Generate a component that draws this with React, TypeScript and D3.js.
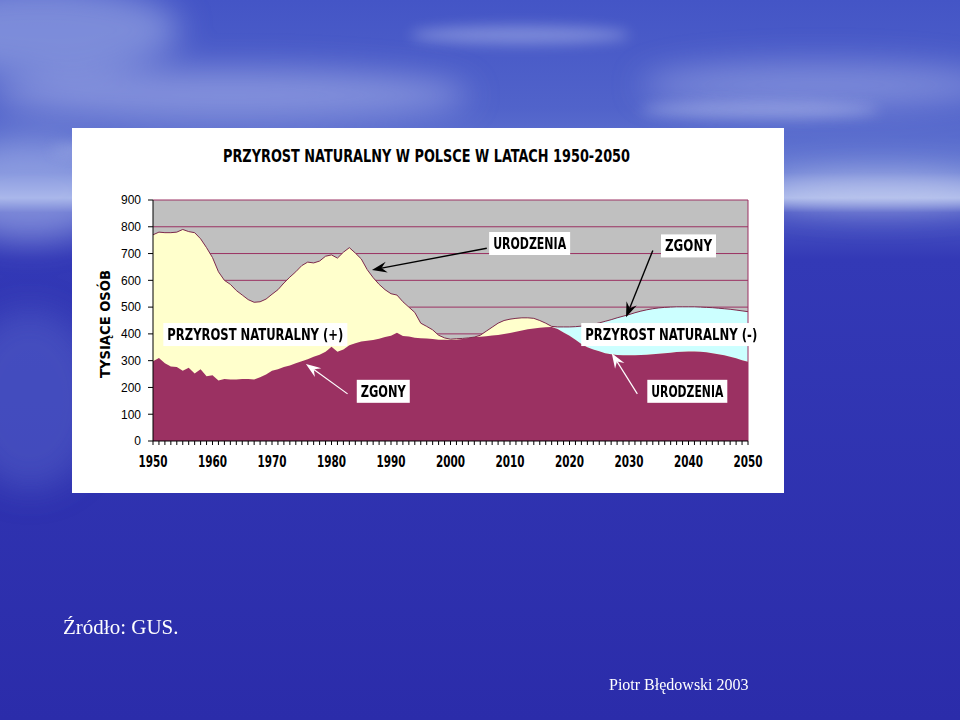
import React from 'react';
import * as d3 from 'd3';

// ---- DATA (thousands of persons) ----
const years: number[] = d3.range(1950, 2051);

const births: number[] = [
  770, 780, 778, 778, 780, 790, 782, 778, 755, 722,
  685, 632, 600, 585, 562, 545, 528, 518, 520, 530,
  548, 565, 590, 612, 632, 655, 668, 665, 672, 690,
  695, 683, 705, 722, 702, 680, 640, 610, 585, 565,
  550, 545, 520, 500, 480, 440, 428, 415, 395, 385,
  380, 382, 383, 385, 388, 395, 410, 425, 440, 450,
  455, 458, 460, 460, 458, 450, 440, 428, 418, 405,
  393, 378, 362, 350, 342, 335, 328, 324, 321, 320,
  320, 320, 321, 322, 324, 326, 328, 330, 332, 333,
  334, 334, 333, 331, 328, 324, 320, 315, 309, 302,
  296,
];

const deaths: number[] = [
  298, 310, 290, 278, 276, 262, 274, 252, 268, 242,
  246, 226, 232, 230, 230, 232, 232, 230, 238, 248,
  262, 268, 276, 282, 290, 298, 305, 315, 322, 333,
  352, 333, 342, 358, 365, 372, 374, 377, 382, 388,
  393, 404, 392, 390, 386, 384, 383, 381, 378, 378,
  377, 378, 381, 385, 388, 389, 391, 394, 396, 400,
  403, 408, 413, 417, 420, 423, 425, 426, 426, 426,
  426, 427, 429, 432, 436, 441, 447, 453, 460, 466,
  472, 479, 485, 490, 494, 497, 499, 500, 501, 501,
  501, 501, 500, 499, 498, 496, 494, 492, 489, 486,
  483,
];

const yTicks: number[] = [0, 100, 200, 300, 400, 500, 600, 700, 800, 900];
const xTicks: number[] = [1950, 1960, 1970, 1980, 1990, 2000, 2010, 2020, 2030, 2040, 2050];

const title = 'PRZYROST NATURALNY W POLSCE W LATACH 1950-2050';
const yTitle = 'TYSIĄCE OSÓB';

// annotation labels in data coordinates (center year, baseline value)
const labels = [
  { text: 'PRZYROST NATURALNY (+)', year: 1967.2, value: 377, w: 176 },
  { text: 'URODZENIA', year: 2013.3, value: 717, w: 73 },
  { text: 'ZGONY', year: 2040.0, value: 708, w: 47 },
  { text: 'PRZYROST NATURALNY (-)', year: 2037.1, value: 377, w: 172 },
  { text: 'ZGONY', year: 1988.7, value: 165, w: 45 },
  { text: 'URODZENIA', year: 2039.8, value: 165, w: 72 },
];

// annotation arrows in data coordinates
const arrows = [
  { x1: 2006.1, v1: 720, x2: 1986.8, v2: 639, color: '#000000', width: 1.4 },
  { x1: 2034.0, v1: 711, x2: 2029.5, v2: 462, color: '#000000', width: 1.4 },
  { x1: 1982.7, v1: 176, x2: 1975.7, v2: 288, color: '#ffffff', width: 1.2 },
  { x1: 2031.4, v1: 176, x2: 2027.1, v2: 328, color: '#ffffff', width: 1.2 },
];

// ---- LAYOUT ----
const W = 960;
const H = 720;
const plot = { left: 153, right: 748, top: 200, bottom: 441 };

const MAROON = '#9b3162';
const YELLOW = '#ffffcc';
const CYAN = '#ccffff';
const GRAY = '#c0c0c0';
const NARROW = "'Liberation Sans Narrow', 'Arial Narrow', 'DejaVu Sans Condensed', 'Liberation Sans', Arial, sans-serif";
const SANS = "'Liberation Sans', Arial, sans-serif";
const SERIF = "'Liberation Serif', 'Times New Roman', serif";

function Arrow({ x1, y1, x2, y2, color, width }: any) {
  const dx = x2 - x1;
  const dy = y2 - y1;
  const len = Math.sqrt(dx * dx + dy * dy);
  const ux = dx / len;
  const uy = dy / len;
  const nx = -uy;
  const ny = ux;
  const L = 15;
  const hw = 5.5;
  const bx = x2 - ux * L;
  const by = y2 - uy * L;
  const notchX = x2 - ux * L * 0.65;
  const notchY = y2 - uy * L * 0.65;
  const pts = [
    [x2, y2],
    [bx + nx * hw, by + ny * hw],
    [notchX, notchY],
    [bx - nx * hw, by - ny * hw],
  ];
  return (
    <g>
      <line x1={x1} y1={y1} x2={notchX} y2={notchY} stroke={color} strokeWidth={width} />
      <polygon points={pts.map((p) => p.join(',')).join(' ')} fill={color} />
    </g>
  );
}

export default function App() {
  const x = d3.scaleLinear().domain([1950, 2050]).range([plot.left, plot.right]);
  const y = d3.scaleLinear().domain([0, 900]).range([plot.bottom, plot.top]);

  const rows = years.map((yr, i) => ({ yr, b: births[i], d: deaths[i] }));

  const areaB = d3.area<any>().x((r) => x(r.yr)).y0(y(0)).y1((r) => y(r.b));
  const areaD = d3.area<any>().x((r) => x(r.yr)).y0(y(0)).y1((r) => y(r.d));
  const areaMin = d3.area<any>().x((r) => x(r.yr)).y0(y(0)).y1((r) => y(Math.min(r.b, r.d)));
  const lineMax = d3.line<any>().x((r) => x(r.yr)).y((r) => y(Math.max(r.b, r.d)));

  return (
    <svg width={W} height={H} style={{ position: 'absolute', left: 0, top: 0 }}>
      <defs>
        <linearGradient id="bg" x1="0" y1="0" x2="0" y2="1">
          <stop offset="0" stopColor="#4455c6" />
          <stop offset="0.15" stopColor="#5163ca" />
          <stop offset="0.24" stopColor="#6579d2" />
          <stop offset="0.275" stopColor="#a4b3e8" />
          <stop offset="0.295" stopColor="#4a56c4" />
          <stop offset="0.36" stopColor="#3339b6" />
          <stop offset="1" stopColor="#2b2caa" />
        </linearGradient>
        <filter id="blur" x="-50%" y="-50%" width="200%" height="200%">
          <feGaussianBlur stdDeviation="16" />
        </filter>
        <filter id="blur2" x="-50%" y="-50%" width="200%" height="200%">
          <feGaussianBlur stdDeviation="7" />
        </filter>
      </defs>

      {/* background sky and sea */}
      <rect x={0} y={0} width={W} height={H} fill="url(#bg)" />
      <g filter="url(#blur)">
        <ellipse cx={40} cy={30} rx={140} ry={45} fill="#a8b6ea" opacity={0.55} />
        <ellipse cx={230} cy={95} rx={240} ry={26} fill="#c4cdf2" opacity={0.45} />
        <ellipse cx={820} cy={85} rx={180} ry={22} fill="#c4cdf2" opacity={0.4} />
        <ellipse cx={880} cy={190} rx={120} ry={18} fill="#d0d8f4" opacity={0.6} />
        <ellipse cx={30} cy={190} rx={80} ry={50} fill="#b0bcee" opacity={0.5} />
        <ellipse cx={30} cy={400} rx={70} ry={90} fill="#5a68cc" opacity={0.45} />
      </g>
      <g filter="url(#blur2)" opacity={0.4}>
        <ellipse cx={520} cy={35} rx={110} ry={9} fill="#d0d8f6" />
        <ellipse cx={760} cy={110} rx={120} ry={8} fill="#d0d8f6" />
        <ellipse cx={180} cy={150} rx={130} ry={9} fill="#c0caf0" />
      </g>

      {/* chart panel */}
      <rect x={72} y={128} width={712} height={365} fill="#ffffff" />
      <text
        x={426.5}
        y={162}
        textAnchor="middle"
        fontFamily={NARROW}
        fontWeight="bold"
        fontSize={17}
        textLength={407}
        lengthAdjust="spacingAndGlyphs"
        fill="#000"
      >
        {title}
      </text>

      {/* plot area */}
      <rect x={plot.left} y={plot.top} width={plot.right - plot.left} height={plot.bottom - plot.top} fill={GRAY} />
      {yTicks.filter((t) => t > 0).map((t) => (
        <line key={'g' + t} x1={plot.left} x2={plot.right} y1={y(t)} y2={y(t)} stroke={MAROON} strokeWidth={1} />
      ))}
      <path d={areaD(rows) || ''} fill={CYAN} />
      <path d={areaB(rows) || ''} fill={YELLOW} />
      <path d={areaMin(rows) || ''} fill={MAROON} />
      <path d={lineMax(rows) || ''} fill="none" stroke="#7d2a4c" strokeWidth={1} />
      <line x1={plot.right} x2={plot.right} y1={plot.top} y2={plot.bottom} stroke={MAROON} strokeWidth={1} />

      {/* axes */}
      <line x1={plot.left} x2={plot.left} y1={plot.top} y2={plot.bottom} stroke="#000" strokeWidth={1} />
      <line x1={plot.left} x2={plot.right} y1={plot.bottom} y2={plot.bottom} stroke="#000" strokeWidth={1} />
      {yTicks.map((t) => (
        <g key={'y' + t}>
          <line x1={plot.left - 5} x2={plot.left} y1={y(t)} y2={y(t)} stroke="#000" />
          <text x={141} y={y(t)} dy="0.36em" textAnchor="end" fontFamily={SANS} fontSize={12} fill="#000">
            {t}
          </text>
        </g>
      ))}
      {years.map((yr) => (
        <line key={'xt' + yr} x1={x(yr)} x2={x(yr)} y1={plot.bottom} y2={plot.bottom + 4} stroke="#000" />
      ))}
      {xTicks.map((t) => (
        <text
          key={'x' + t}
          x={x(t)}
          y={467}
          textAnchor="middle"
          fontFamily={NARROW}
          fontWeight="bold"
          fontSize={15}
          textLength={29}
          lengthAdjust="spacingAndGlyphs"
          fill="#000"
        >
          {t}
        </text>
      ))}
      <text
        transform="translate(110,324) rotate(-90)"
        textAnchor="middle"
        fontFamily={NARROW}
        fontWeight="bold"
        fontSize={14}
        textLength={108}
        lengthAdjust="spacingAndGlyphs"
        fill="#000"
      >
        {yTitle}
      </text>

      {/* annotation labels */}
      {labels.map((l, i) => {
        const cx = x(l.year);
        const base = y(l.value);
        return (
          <g key={'l' + i}>
            <rect x={cx - l.w / 2 - 4} y={base - 17} width={l.w + 8} height={23} fill="#ffffff" />
            <text
              x={cx}
              y={base}
              textAnchor="middle"
              fontFamily={NARROW}
              fontWeight="bold"
              fontSize={16.5}
              textLength={l.w}
              lengthAdjust="spacingAndGlyphs"
              fill="#000"
            >
              {l.text}
            </text>
          </g>
        );
      })}

      {/* arrows */}
      {arrows.map((a, i) => (
        <Arrow key={'a' + i} x1={x(a.x1)} y1={y(a.v1)} x2={x(a.x2)} y2={y(a.v2)} color={a.color} width={a.width} />
      ))}

      {/* footer texts */}
      <text x={63} y={634} fontFamily={SERIF} fontSize={21} fill="#ffffff">
        Źródło: GUS.
      </text>
      <text x={609} y={690} fontFamily={SERIF} fontSize={16} fill="#ffffff">
        Piotr Błędowski 2003
      </text>
    </svg>
  );
}
